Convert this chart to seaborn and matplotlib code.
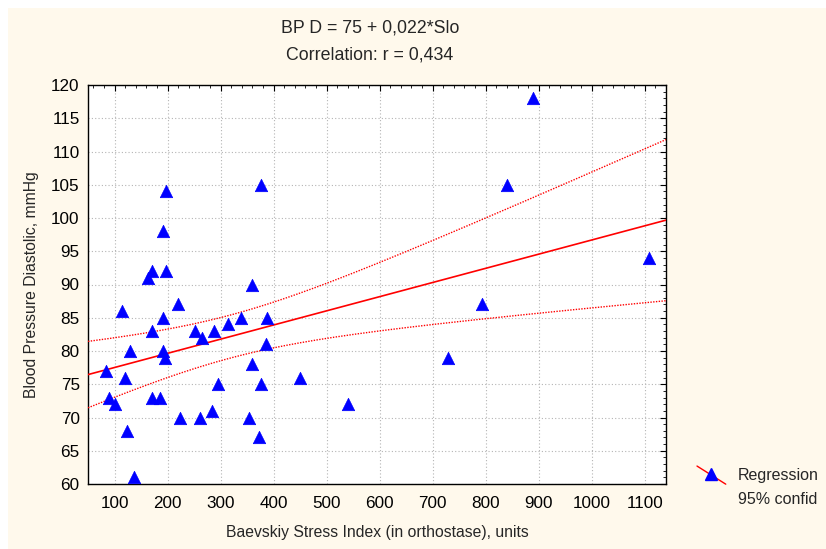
import numpy as np
import matplotlib as mpl
mpl.use('Agg')
import matplotlib.pyplot as plt
import seaborn as sns
from matplotlib.lines import Line2D
from matplotlib.patches import Rectangle
from matplotlib.legend_handler import HandlerLine2D
from matplotlib.ticker import MultipleLocator

# Baevskiy stress index vs diastolic blood pressure
stress_index = [84, 89, 101, 115, 120, 124, 130, 137, 163, 170, 170, 170, 186,
                191, 191, 191, 196, 198, 198, 219, 224, 251, 265, 262, 283, 288,
                296, 314, 338, 353, 359, 360, 372, 377, 376, 386, 388, 449, 540,
                728, 793, 840, 890, 1108]
bp_diastolic = [77, 73, 72, 86, 76, 68, 80, 61, 91, 92, 83, 73, 73,
                98, 85, 80, 79, 104, 92, 87, 70, 83, 82, 70, 71, 83,
                75, 84, 85, 70, 90, 78, 67, 105, 75, 81, 85, 76, 72,
                79, 87, 105, 118, 94]
title_lines = ['BP D = 75 + 0,022*Slo', 'Correlation: r = 0,434']
x_label = 'Baevskiy Stress Index (in orthostase), units'
y_label = 'Blood Pressure Diastolic, mmHg'
legend_labels = ['Regression', '95% confid']
T_CRIT = 2.018  # t(0.975, df=42)

sns.set_style('white')
plt.rcParams['font.family'] = ['Liberation Sans', 'DejaVu Sans']
plt.rcParams['font.size'] = 12

fig = plt.figure(figsize=(8.26, 5.49), dpi=100)
fig.patch.set_facecolor('white')
fig.patches.append(Rectangle((8 / 826, 0), 1, 1 - 8 / 549, transform=fig.transFigure,
                             facecolor='#fff9ec', edgecolor='none', zorder=-10))
ax = fig.add_axes([88 / 826, 1 - 484 / 549, (666 - 88) / 826, (484 - 85) / 549])
ax.set_facecolor('white')

x = np.array(stress_index, dtype=float)
y = np.array(bp_diastolic, dtype=float)
n = len(x)
slope, intercept = np.polyfit(x, y, 1)
resid = y - (intercept + slope * x)
s = np.sqrt(np.sum(resid ** 2) / (n - 2))
sxx = np.sum((x - x.mean()) ** 2)

xlim = (50, 1140)
xs = np.linspace(xlim[0], xlim[1], 200)
yhat = intercept + slope * xs
half = T_CRIT * s * np.sqrt(1 / n + (xs - x.mean()) ** 2 / sxx)

sns.lineplot(x=xs, y=yhat, ax=ax, color='red', lw=1.2, zorder=3)
sns.lineplot(x=xs, y=yhat + half, ax=ax, color='red', lw=1, ls=(0, (1, 1)), zorder=3)
sns.lineplot(x=xs, y=yhat - half, ax=ax, color='red', lw=1, ls=(0, (1, 1)), zorder=3)
sns.scatterplot(x=x, y=y, ax=ax, marker='^', color='blue', edgecolor='blue',
                s=80, linewidth=0.5, zorder=4)

ax.set_xlim(*xlim)
ax.set_ylim(60, 120)
ax.set_xticks(np.arange(100, 1101, 100))
ax.set_yticks(np.arange(60, 121, 5))
ax.xaxis.set_minor_locator(MultipleLocator(20))
ax.yaxis.set_minor_locator(MultipleLocator(1))
ax.tick_params(which='both', direction='in', top=True, right=True, colors='black',
               labelsize=12.3)
ax.tick_params(which='major', length=4, width=0.8)
ax.tick_params(which='minor', length=2, width=0.6)
ax.tick_params(axis='x', pad=9)
ax.tick_params(axis='y', pad=6)
ax.grid(True, which='major', color='#b4b4b4', ls=(0, (1, 2)), lw=0.8)
for sp in ax.spines.values():
    sp.set_color('black')
    sp.set_linewidth(1)

ax.set_xlabel(x_label, fontsize=11.3, labelpad=10)
ax.set_ylabel(y_label, fontsize=11.3, labelpad=9)

fig.text(370 / 826, 1 - 28 / 549, title_lines[0], ha='center', va='center', fontsize=12.8)
fig.text(370 / 826, 1 - 55 / 549, title_lines[1], ha='center', va='center', fontsize=12.8)


class DiagHandler(HandlerLine2D):
    def create_artists(self, legend, orig_handle, xdescent, ydescent, width, height,
                       fontsize, trans):
        if orig_handle.get_label() == 'blank':
            return [Line2D([], [], transform=trans)]
        ln = Line2D([-xdescent, width - xdescent], [height - ydescent + 2, -ydescent - 3],
                    color='red', lw=1, transform=trans)
        mk = Line2D([width / 2 - xdescent], [height / 2 - ydescent], marker='^',
                    color='blue', ms=8.5, ls='none', transform=trans)
        return [ln, mk]


h1 = Line2D([], [], color='red', label='main')
h2 = Line2D([], [], color='red', label='blank')
fig.legend([h1, h2], legend_labels, loc='upper left', bbox_to_anchor=(697 / 826, 1 - 468 / 549),
           frameon=False, handler_map={Line2D: DiagHandler()}, handlelength=1.8,
           handletextpad=0.75, labelspacing=0.55, fontsize=11.5, borderpad=0,
           borderaxespad=0)

fig.savefig('out.png', dpi=100)
